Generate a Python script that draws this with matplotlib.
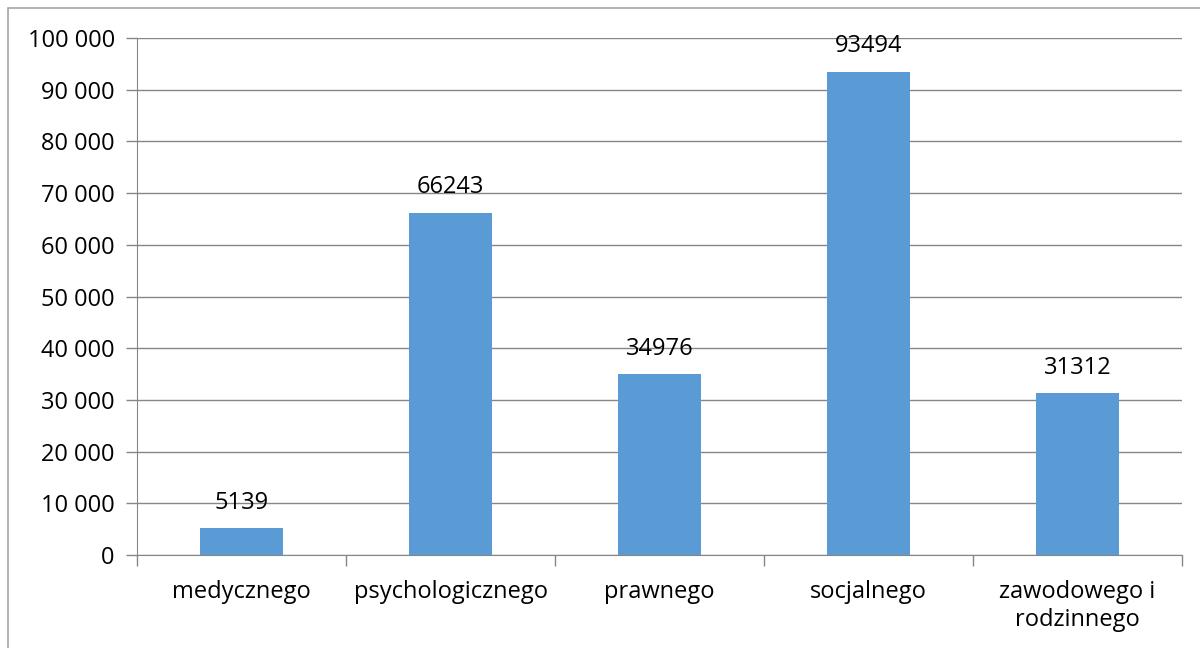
import matplotlib.pyplot as plt
from matplotlib.patches import Rectangle
from matplotlib.ticker import FuncFormatter

plt.rcParams['font.family'] = ['Open Sans', 'DejaVu Sans']

categories = ['medycznego', 'psychologicznego', 'prawnego', 'socjalnego',
              'zawodowego i\nrodzinnego']
values = [5139, 66243, 34976, 93494, 31312]
yticks = list(range(0, 100001, 10000))

W, H = 1200, 648
fig = plt.figure(figsize=(W / 100, H / 100), dpi=100)

# outer chart frame (left and top edges visible)
fig.patches.append(Rectangle((8 / W, -0.1), 1.1, 1.1 - 8 / H, transform=fig.transFigure,
                             fill=False, edgecolor='#a6a6a6', linewidth=1.2))

ax = fig.add_axes([137 / W, 1 - 555 / H, (1182 - 137) / W, (555 - 38) / H])

x = list(range(len(categories)))
ax.bar(x, values, width=0.4, color='#5b9bd5', zorder=3)
for xi, v in zip(x, values):
    ax.text(xi, v + 4900, str(v), ha='center', va='center', fontsize=17, color='#000000')

ax.set_xlim(-0.5, len(categories) - 0.5)
ax.set_ylim(0, 100000)
ax.set_yticks(yticks)
ax.yaxis.set_major_formatter(FuncFormatter(lambda v, p: f'{int(v):,}'.replace(',', ' ')))
ax.grid(axis='y', color='#868686', linewidth=1, zorder=0)

ax.set_xticks(x)
ax.set_xticklabels(categories, fontsize=17, linespacing=1.25)
ax.set_xticks([i - 0.5 for i in range(len(categories) + 1)], minor=True)
ax.tick_params(axis='x', which='major', length=0, pad=18)
ax.tick_params(axis='x', which='minor', length=8, color='#868686', width=1)
ax.tick_params(axis='y', length=8, color='#868686', width=1, labelsize=17, pad=8)

for s in ['top', 'right']:
    ax.spines[s].set_visible(False)
ax.spines['left'].set_color('#868686')
ax.spines['bottom'].set_color('#868686')

fig.savefig('out.png', dpi=100)
